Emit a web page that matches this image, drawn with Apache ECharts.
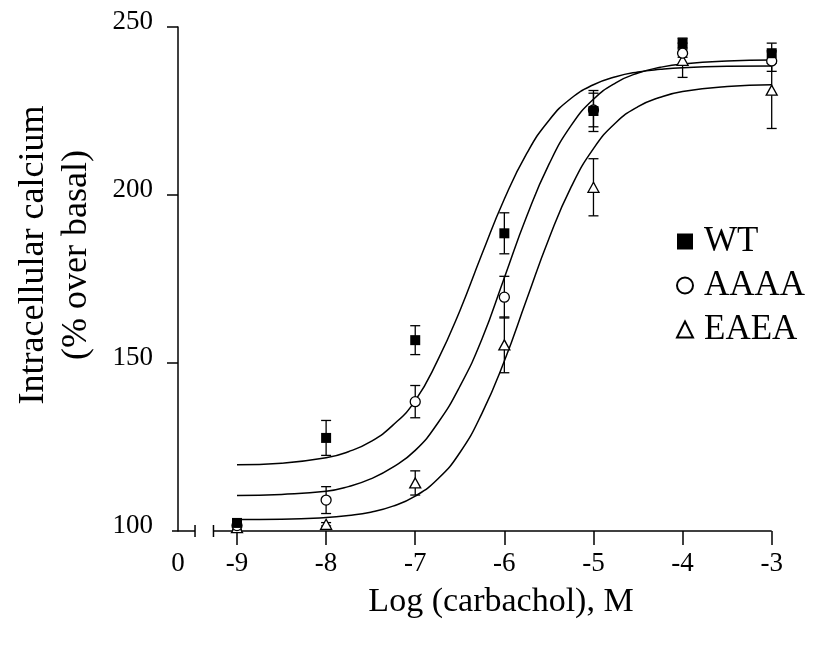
<!DOCTYPE html>
<html>
<head>
<meta charset="utf-8">
<script src="https://cdn.jsdelivr.net/npm/echarts@6/dist/echarts.min.js"></script>
<style>
  html, body { margin: 0; padding: 0; background: #fff; }
  #chart { width: 817px; height: 646px; }
</style>
</head>
<body>
<div id="chart"></div>
<script>
// log dose of carbachol (M)
const doses = [-9, -8, -7, -6, -5, -4, -3]
const xTickValues = [-9, -8, -7, -6, -5, -4, -3]
const yTickValues = [150, 200, 250]

// means and error bars
const wtMean = [102.4, 127.7, 156.8, 188.6, 225.0, 245.2, 242.2]
const wtErr = [0.5, 5.2, 4.3, 6.1, 6.1, 1.5, 3.0]
const aaaaMean = [101.6, 109.2, 138.5, 169.6, 225.3, 242.2, 239.9]
const aaaaErr = [0.5, 4.0, 4.8, 6.2, 5.0, 1.2, 3.1]
const eaeaMean = [101.0, 102.0, 114.3, 155.4, 202.3, 240.1, 231.2]
const eaeaErr = [0.5, 0.5, 3.6, 8.3, 8.5, 5.1, 11.4]

// fitted curves
const fitX = [-9, -8.5, -8, -7.75, -7.5, -7.25, -7, -6.75, -6.5, -6.25, -6, -5.75, -5.5, -5.25, -5, -4.75, -4.5, -4.25, -4, -3.5, -3]
const wtFit = [119.7, 120.2, 121.8, 123.6, 126.6, 131.5, 138.8, 150.7, 165.5, 182.5, 198.8, 212.3, 222.2, 228.8, 232.8, 235.2, 236.6, 237.4, 237.9, 238.3, 238.4]
const aaaaFit = [110.6, 110.9, 111.8, 113.2, 115.5, 119.0, 124.0, 132.0, 143.0, 157.2, 175.4, 193.6, 209.1, 220.7, 228.5, 233.4, 236.3, 238.0, 239.0, 239.9, 240.2]
const eaeaFit = [103.4, 103.5, 104.0, 104.6, 105.6, 107.4, 110.4, 115.4, 123.3, 135.1, 150.6, 168.9, 187.0, 202.4, 213.8, 221.5, 226.3, 229.1, 230.8, 232.3, 232.8]

const xMin = -9.662 // the "0" end of the broken axis
const breakFrom = -9.471
const breakTo = -9.264
const fontFamily = "'Liberation Serif', 'Times New Roman', serif"

function pairs(xs, ys) {
  return xs.map((x, i) => [x, ys[i]])
}

function errData(means, errs) {
  return doses.map((d, i) => [d, means[i] - errs[i], means[i] + errs[i]])
}

function renderErr(params, api) {
  const x = api.value(0)
  const top = api.coord([x, api.value(2)])
  const bot = api.coord([x, api.value(1)])
  const w = 5
  const style = { stroke: '#000', lineWidth: 1.3 }
  return {
    type: 'group',
    children: [
      { type: 'line', shape: { x1: top[0], y1: top[1], x2: bot[0], y2: bot[1] }, style },
      { type: 'line', shape: { x1: top[0] - w, y1: top[1], x2: top[0] + w, y2: top[1] }, style },
      { type: 'line', shape: { x1: bot[0] - w, y1: bot[1], x2: bot[0] + w, y2: bot[1] }, style }
    ]
  }
}

function fitSeries(ys) {
  return {
    type: 'line',
    data: pairs(fitX, ys),
    smooth: 0.5,
    showSymbol: false,
    silent: true,
    lineStyle: { color: '#000', width: 1.5 },
    z: 1
  }
}

function errSeries(means, errs) {
  return {
    type: 'custom',
    data: errData(means, errs),
    encode: { x: 0, y: [1, 2] },
    renderItem: renderErr,
    silent: true,
    z: 2
  }
}

const chart = echarts.init(document.getElementById('chart'))

chart.setOption({
  animation: false,
  backgroundColor: '#fff',
  textStyle: { fontFamily },
  grid: { left: 178, right: 45.3, top: 27, bottom: 115 },
  legend: {
    data: ['WT', 'AAAA', 'EAEA'],
    orient: 'vertical',
    left: 671,
    top: 219,
    itemWidth: 16,
    itemHeight: 16,
    itemGap: 9,
    selectedMode: false,
    textStyle: { fontFamily, fontSize: 35, color: '#000', lineHeight: 35, padding: [0, 0, 0, 6] }
  },
  xAxis: {
    type: 'value',
    min: xMin,
    max: -3,
    splitLine: { show: false },
    axisLine: { show: false },
    axisTick: {
      show: true,
      customValues: xTickValues,
      length: 14,
      lineStyle: { color: '#000', width: 1.5 }
    },
    axisLabel: {
      customValues: [xMin].concat(xTickValues),
      formatter: v => (v < -9.5 ? '0' : String(v)),
      fontFamily,
      fontSize: 27,
      color: '#000',
      margin: 19
    }
  },
  yAxis: {
    type: 'value',
    min: 100,
    max: 250,
    interval: 50,
    splitLine: { show: false },
    axisLine: { show: true, lineStyle: { color: '#000', width: 1.5 } },
    axisTick: {
      show: true,
      customValues: yTickValues,
      length: 11,
      lineStyle: { color: '#000', width: 1.5 }
    },
    axisLabel: {
      fontFamily,
      fontSize: 27,
      color: '#000',
      margin: 25,
      verticalAlign: 'bottom',
      lineHeight: 11
    }
  },
  series: [
    fitSeries(wtFit),
    fitSeries(aaaaFit),
    fitSeries(eaeaFit),
    errSeries(eaeaMean, eaeaErr),
    errSeries(aaaaMean, aaaaErr),
    errSeries(wtMean, wtErr),
    {
      name: 'EAEA',
      type: 'scatter',
      symbol: 'triangle',
      symbolSize: [11, 10],
      data: pairs(doses, eaeaMean),
      itemStyle: { color: '#fff', borderColor: '#000', borderWidth: 1.3, opacity: 1 },
      z: 3
    },
    {
      name: 'AAAA',
      type: 'scatter',
      symbol: 'circle',
      symbolSize: 10,
      data: pairs(doses, aaaaMean),
      itemStyle: { color: '#fff', borderColor: '#000', borderWidth: 1.3, opacity: 1 },
      z: 4
    },
    {
      name: 'WT',
      type: 'scatter',
      symbol: 'rect',
      symbolSize: 10,
      data: pairs(doses, wtMean),
      itemStyle: { color: '#000', opacity: 1 },
      z: 5
    }
  ]
})

// broken x axis line and the axis titles
const p0 = chart.convertToPixel({ gridIndex: 0 }, [xMin, 100])
const pA = chart.convertToPixel({ gridIndex: 0 }, [breakFrom, 100])
const pB = chart.convertToPixel({ gridIndex: 0 }, [breakTo, 100])
const pEnd = chart.convertToPixel({ gridIndex: 0 }, [-3, 100])
const axisStyle = { stroke: '#000', lineWidth: 1.5 }

chart.setOption({
  graphic: [
    { type: 'line', shape: { x1: p0[0] - 6, y1: p0[1], x2: pA[0], y2: pA[1] }, style: axisStyle },
    { type: 'line', shape: { x1: pA[0], y1: pA[1] - 6, x2: pA[0], y2: pA[1] + 6 }, style: axisStyle },
    { type: 'line', shape: { x1: pB[0], y1: pB[1] - 6, x2: pB[0], y2: pB[1] + 6 }, style: axisStyle },
    { type: 'line', shape: { x1: pB[0], y1: pB[1], x2: pEnd[0], y2: pEnd[1] }, style: axisStyle },
    {
      type: 'text',
      x: 501,
      y: 602,
      style: {
        text: 'Log (carbachol), M',
        font: '34px ' + fontFamily,
        fill: '#000',
        align: 'center',
        verticalAlign: 'middle'
      }
    },
    {
      type: 'text',
      x: 55,
      y: 255,
      rotation: Math.PI / 2,
      style: {
        text: 'Intracellular calcium\n(% over basal)',
        font: '36px ' + fontFamily,
        lineHeight: 43,
        fill: '#000',
        align: 'center',
        verticalAlign: 'middle'
      }
    }
  ]
})
</script>
</body>
</html>
